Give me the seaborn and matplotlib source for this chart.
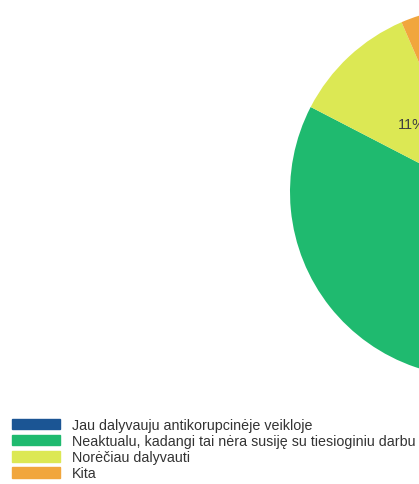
import matplotlib
matplotlib.use("Agg")
import matplotlib.pyplot as plt
import matplotlib.patches as mpatches
import seaborn as sns

labels = [
    "Jau dalyvauju antikorupcinėje veikloje",
    "Neaktualu, kadangi tai nėra susiję su tiesioginiu darbu",
    "Norėčiau dalyvauti",
    "Kita",
]
shares = [9.6, 73.0, 10.9, 6.5]
colors = ["#1b5594", "#1fba6f", "#dce854", "#f1a63d"]

sns.set_theme(style="white")
plt.rcParams["font.family"] = ["Liberation Sans", "DejaVu Sans"]
palette = sns.color_palette(colors)

W, H = 419, 485
fig = plt.figure(figsize=(W / 100, H / 100), dpi=100)

# pie centre sits off the right edge, like the cropped original
cx, cy, r = 475, 193, 185
ax = fig.add_axes([(cx - r) / W, (H - cy - r) / H, 2 * r / W, 2 * r / H])
wedges, texts, autotexts = ax.pie(
    shares,
    colors=palette,
    startangle=90,
    counterclock=False,
    autopct="%1.0f%%",
    pctdistance=0.5,
    wedgeprops=dict(linewidth=0),
    textprops=dict(color="#404040", fontsize=10.5),
)
ax.set_xlim(-1, 1)
ax.set_ylim(-1, 1)
ax.axis("off")

handles = [mpatches.Patch(color=c, label=l) for c, l in zip(palette, labels)]
fig.legend(
    handles=handles,
    loc="upper left",
    bbox_to_anchor=(12 / W, 1 - 419 / H),
    frameon=False,
    fontsize=10.25,
    borderpad=0,
    borderaxespad=0,
    handlelength=3.38,
    handleheight=0.77,
    handletextpad=0.85,
    labelspacing=0.15,
    labelcolor="#333333",
)

fig.savefig("out.png", dpi=100)
